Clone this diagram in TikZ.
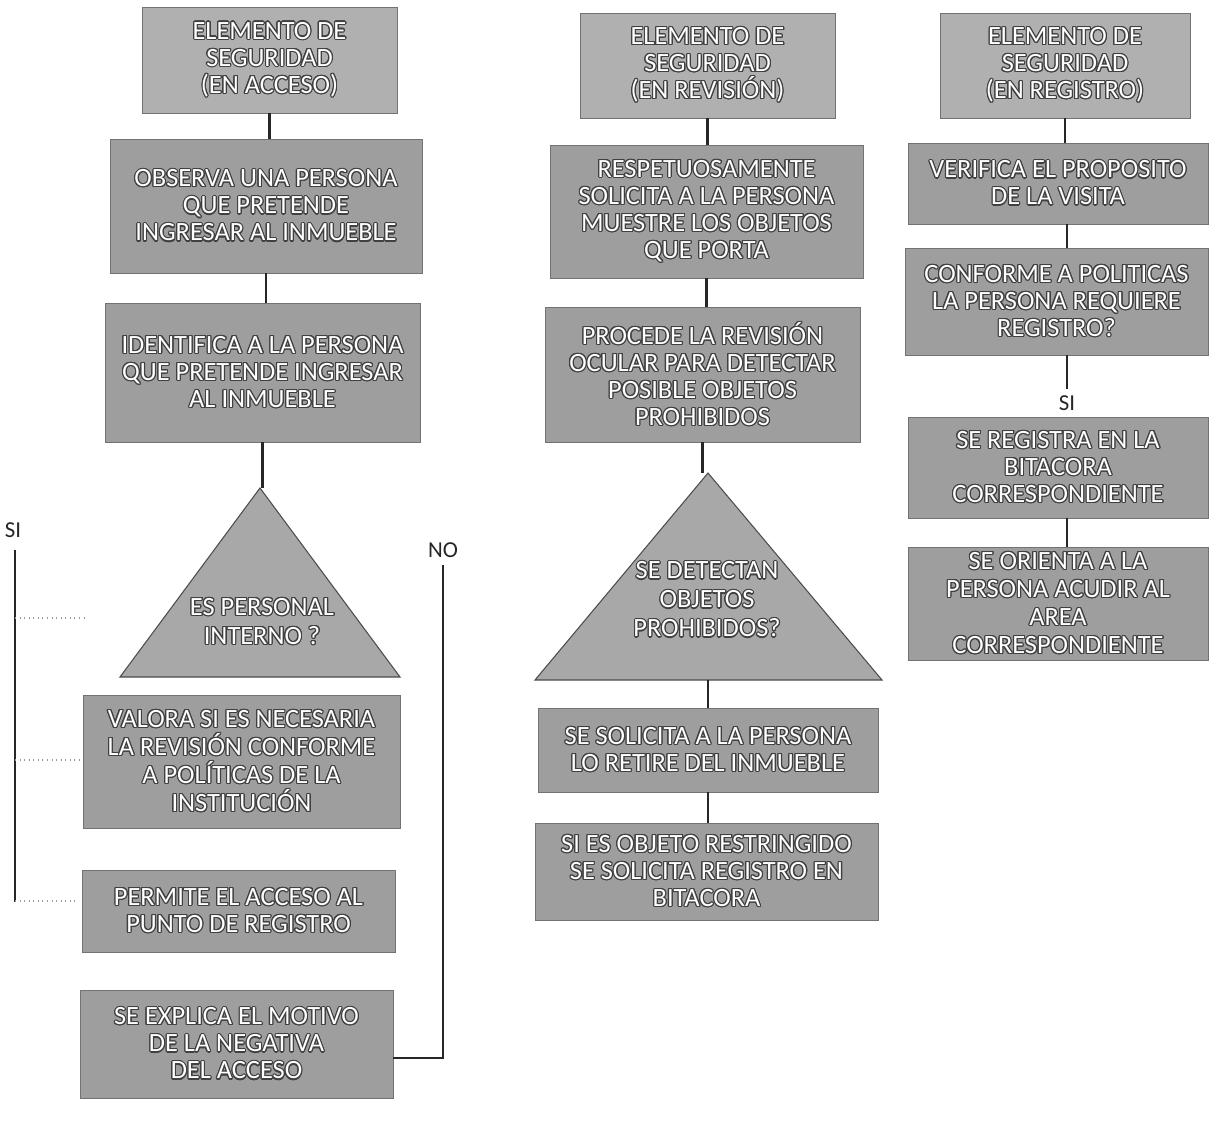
\documentclass[tikz,border=0pt]{standalone}
\usepackage{fontspec}
\setmainfont{Carlito}
\usepackage[copies]{contour}
\contourlength{0.65pt}
\usetikzlibrary{positioning}
\tikzstyle{caja} = [rectangle, draw=black!55, line width=0.5pt, fill=black!38, text=white, align=center, inner sep=2pt, font=\fontsize{15}{15.4}\selectfont]
\tikzstyle{cajaclara} = [caja, fill=black!31]
\tikzstyle{tri} = [draw=black!70, line width=0.6pt, fill=black!34]
\tikzstyle{textotri} = [text=white, align=center, font=\fontsize{15}{16.5}\selectfont]
\tikzstyle{lin} = [line width=1.6pt, black!85]
\tikzstyle{rama} = [line width=0.8pt, black!85]
\tikzstyle{punteo} = [dotted, black!40, line width=0.6pt]
\tikzstyle{etiq} = [font=\fontsize{13}{15}\selectfont, text=black!85]
\newcommand{\tx}[1]{\contour{black!75}{#1}}

\begin{document}
\begin{tikzpicture}[x=0.02cm, y=-0.02cm]
  \useasboundingbox (0,0) rectangle (1209,1123);

  % Columna 1: en acceso
  \node[cajaclara, minimum width=5.1cm, minimum height=2.12cm] (A1) at (269.5,60) {\tx{ELEMENTO DE}\\\tx{SEGURIDAD}\\\tx{(EN ACCESO)}};
  \node[caja, minimum width=6.24cm, minimum height=2.68cm] (A2) at (266,206) {\tx{OBSERVA UNA PERSONA}\\\tx{QUE PRETENDE}\\\tx{INGRESAR AL INMUEBLE}};
  \node[caja, minimum width=6.3cm, minimum height=2.78cm] (A3) at (262.5,372.5) {\tx{IDENTIFICA A LA PERSONA}\\\tx{QUE PRETENDE INGRESAR}\\\tx{AL INMUEBLE}};
  \draw[tri] (260,488) -- (120,677) -- (400,677) -- cycle;
  \coordinate (t1) at (260,488);
  \node[textotri] (q1) at (262,622) {\tx{ES PERSONAL}\\\tx{INTERNO ?}};
  \node[caja, minimum width=6.34cm, minimum height=2.66cm, font=\fontsize{15}{16}\selectfont] (A4) at (241.5,761.5) {\tx{VALORA SI ES NECESARIA}\\\tx{LA REVISIÓN CONFORME}\\\tx{A POLÍTICAS DE LA}\\\tx{INSTITUCIÓN}};
  \node[caja, minimum width=6.26cm, minimum height=1.64cm] (A5) at (238.5,911) {\tx{PERMITE EL ACCESO AL}\\\tx{PUNTO DE REGISTRO}};
  \node[caja, minimum width=6.26cm, minimum height=2.16cm] (A6) at (236.5,1044) {\tx{SE EXPLICA EL MOTIVO}\\\tx{DE LA NEGATIVA}\\\tx{DEL ACCESO}};

  % Columna 2: en revision
  \node[cajaclara, minimum width=5.1cm, minimum height=2.1cm] (B1) at (707.5,65.5) {\tx{ELEMENTO DE}\\\tx{SEGURIDAD}\\\tx{(EN REVISIÓN)}};
  \node[caja, minimum width=6.26cm, minimum height=2.66cm] (B2) at (706.5,211.5) {\tx{RESPETUOSAMENTE}\\\tx{SOLICITA A LA PERSONA}\\\tx{MUESTRE LOS OBJETOS}\\\tx{QUE PORTA}};
  \node[caja, minimum width=6.3cm, minimum height=2.7cm] (B3) at (702.5,374.5) {\tx{PROCEDE LA REVISIÓN}\\\tx{OCULAR PARA DETECTAR}\\\tx{POSIBLE OBJETOS}\\\tx{PROHIBIDOS}};
  \draw[tri] (708,473) -- (535,680) -- (882,680) -- cycle;
  \coordinate (t2) at (708,473);
  \coordinate (t2b) at (708,680);
  \node[textotri] (q2) at (707,600) {\tx{SE DETECTAN}\\\tx{OBJETOS}\\\tx{PROHIBIDOS?}};
  \node[caja, minimum width=6.8cm, minimum height=1.68cm] (B4) at (708,750) {\tx{SE SOLICITA A LA PERSONA}\\\tx{LO RETIRE DEL INMUEBLE}};
  \node[caja, minimum width=6.86cm, minimum height=1.94cm] (B5) at (706.5,871.5) {\tx{SI ES OBJETO RESTRINGIDO}\\\tx{SE SOLICITA REGISTRO EN}\\\tx{BITACORA}};

  % Columna 3: en registro
  \node[cajaclara, minimum width=5.0cm, minimum height=2.1cm] (C1) at (1065,65.5) {\tx{ELEMENTO DE}\\\tx{SEGURIDAD}\\\tx{(EN REGISTRO)}};
  \node[caja, minimum width=6.0cm, minimum height=1.62cm] (C2) at (1058,183.5) {\tx{VERIFICA EL PROPOSITO}\\\tx{DE LA VISITA}};
  \node[caja, minimum width=6.06cm, minimum height=2.14cm] (C3) at (1056.5,301.5) {\tx{CONFORME A POLITICAS}\\\tx{LA PERSONA REQUIERE}\\\tx{REGISTRO?}};
  \node[etiq] (si3) at (1067,403) {SI};
  \node[caja, minimum width=6.0cm, minimum height=2.02cm] (C4) at (1058,467.5) {\tx{SE REGISTRA EN LA}\\\tx{BITACORA}\\\tx{CORRESPONDIENTE}};
  \node[caja, minimum width=6.0cm, minimum height=2.26cm, font=\fontsize{15}{16}\selectfont] (C5) at (1058,603.5) {\tx{SE ORIENTA A LA}\\\tx{PERSONA ACUDIR AL}\\\tx{AREA}\\\tx{CORRESPONDIENTE}};

  % Ramas SI / NO
  \node[etiq] (si) at (13,530) {SI};
  \coordinate (si1) at (15,550);
  \coordinate (si2) at (15,902);
  \coordinate (p1) at (85,618);
  \coordinate (p2) at (80,760);
  \coordinate (p3) at (75,901);
  \node[etiq] (no) at (443,550) {NO};
  \coordinate (no1) at (443,565);
  \coordinate (no2) at (443,1058);

  % Conectores
  \draw[lin] (A1.south) -- (A1.south |- A2.north);
  \draw[lin] (A2.south) -- (A2.south |- A3.north);
  \draw[lin] (A3.south) -- (A3.south |- t1);
  \draw[lin] (B1.south) -- (B1.south |- B2.north);
  \draw[lin] (B2.south) -- (B2.south |- B3.north);
  \draw[lin] (B3.south) -- (B3.south |- t2);
  \draw[lin] (t2b) -- (t2b |- B4.north);
  \draw[lin] (B4.south) -- (B4.south |- B5.north);
  \draw[lin] (C1.south) -- (C1.south |- C2.north);
  \draw[lin] (C2.south -| si3) -- (C3.north -| si3);
  \draw[lin] (C3.south -| si3) -- (si3.north);
  \draw[lin] (C4.south -| si3) -- (C5.north -| si3);
  \draw[rama] (si1) -- (si2);
  \draw[punteo] (si1 |- p1) -- (p1);
  \draw[punteo] (si1 |- p2) -- (p2);
  \draw[punteo] (si1 |- p3) -- (p3);
  \draw[rama] (no1) -- (no2) -- (no2 -| A6.east);
\end{tikzpicture}
\end{document}
